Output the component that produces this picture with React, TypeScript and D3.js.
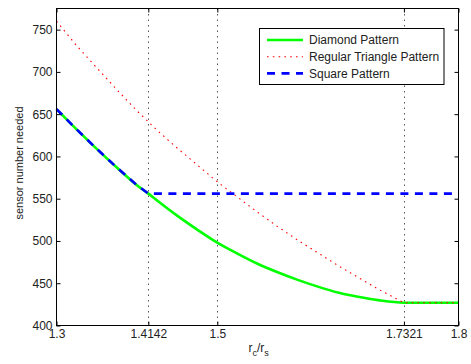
import { useEffect, useRef } from 'react';
import * as d3 from 'd3';

// r_c / r_s sample points
const ratios = [1.3, 1.325, 1.35, 1.375, 1.4, 1.4142, 1.425, 1.45, 1.475, 1.5, 1.525, 1.55, 1.575, 1.6, 1.625, 1.65, 1.675, 1.7, 1.7321, 1.75, 1.775, 1.8];
const diamond = [656, 632, 609, 587, 566, 556, 548, 530, 513.5, 498, 485, 473, 463, 454, 446, 439, 434, 430, 427, 427, 427, 427];
const triangle = [760, 731, 705, 679, 654, 641, 631, 610, 590, 570, 552, 534, 517, 501, 486, 471, 457, 443, 427, 427, 427, 427];
const square = [656, 632, 609, 587, 566, 556, 556, 556, 556, 556, 556, 556, 556, 556, 556, 556, 556, 556, 556, 556, 556, 556];

const xTicks = [1.3, 1.4142, 1.5, 1.7321, 1.8];
const xTickLabels = ['1.3', '1.4142', '1.5', '1.7321', '1.8'];
const yTicks = [400, 450, 500, 550, 600, 650, 700, 750];
const legendNames = ['Diamond Pattern', 'Regular Triangle Pattern', 'Square Pattern'];

const FONT = '"Liberation Sans", Arial, Helvetica, sans-serif';

const App: React.FC = () => {
    const ref = useRef<SVGSVGElement>(null);

    useEffect(() => {
        const left = 56.5, right = 458.5, top = 8.5, bottom = 325.5;

        const svg = d3.select(ref.current!);
        svg.selectAll('*').remove();

        const x = d3.scaleLinear().domain([1.3, 1.8]).range([left, right]);
        const y = d3.scaleLinear().domain([400, 775]).range([bottom, top]);

        // vertical grid lines (MATLAB style dotted)
        svg.append('g')
            .selectAll('line')
            .data(xTicks.slice(1, -1))
            .enter()
            .append('line')
            .attr('x1', d => Math.round(x(d)) + 0.5)
            .attr('x2', d => Math.round(x(d)) + 0.5)
            .attr('y1', top)
            .attr('y2', bottom)
            .attr('stroke', '#555')
            .attr('stroke-width', 1)
            .attr('stroke-dasharray', '1.5,4');

        const pts = (vals: number[]) => ratios.map((r, i) => [r, vals[i]] as [number, number]);

        const smooth = d3.line<[number, number]>().x(d => x(d[0])).y(d => y(d[1])).curve(d3.curveMonotoneX);
        const straight = d3.line<[number, number]>().x(d => x(d[0])).y(d => y(d[1]));

        const series = [
            { name: legendNames[0], path: smooth(pts(diamond)), color: '#00ff00', w: 2.6, dash: null as string | null },
            { name: legendNames[1], path: straight(pts(triangle)), color: '#ff0000', w: 1.1, dash: '1.6,4.2' },
            { name: legendNames[2], path: straight(pts(square)), color: '#0000ff', w: 2.6, dash: '8,6.5' },
        ];

        series.forEach(s => {
            svg.append('path')
                .attr('d', s.path)
                .attr('fill', 'none')
                .attr('stroke', s.color)
                .attr('stroke-width', s.w)
                .attr('stroke-dasharray', s.dash);
        });

        // axes box
        svg.append('rect')
            .attr('x', left).attr('y', top)
            .attr('width', right - left).attr('height', bottom - top)
            .attr('fill', 'none').attr('stroke', '#000').attr('stroke-width', 1);

        // ticks on all four sides, pointing inward
        const axB = d3.axisBottom(x).tickValues(xTicks).tickSize(-4).tickPadding(4)
            .tickFormat((_, i) => xTickLabels[i]);
        const axT = d3.axisTop(x).tickValues(xTicks).tickSize(-4).tickFormat(() => '');
        const axL = d3.axisLeft(y).tickValues(yTicks).tickSize(-4).tickPadding(4);
        const axR = d3.axisRight(y).tickValues(yTicks).tickSize(-4).tickFormat(() => '');

        const styleAxis = (g: d3.Selection<SVGGElement, unknown, null, undefined>) => {
            g.select('.domain').remove();
            g.attr('font-family', FONT).attr('font-size', 12);
            g.selectAll('text').attr('fill', '#222');
        };

        svg.append('g').attr('transform', `translate(0,${bottom})`).call(axB).call(styleAxis);
        svg.append('g').attr('transform', `translate(0,${top})`).call(axT).call(styleAxis);
        svg.append('g').attr('transform', `translate(${left},0)`).call(axL).call(styleAxis);
        svg.append('g').attr('transform', `translate(${right},0)`).call(axR).call(styleAxis);

        // axis labels
        const xl = svg.append('text')
            .attr('x', (left + right) / 2 - 9)
            .attr('y', 352)
            .attr('font-family', FONT)
            .attr('font-size', 12)
            .attr('fill', '#222');
        xl.append('tspan').text('r');
        xl.append('tspan').attr('font-size', 9).attr('dy', 4).text('c');
        xl.append('tspan').attr('dy', -4).text('/r');
        xl.append('tspan').attr('font-size', 9).attr('dy', 4).text('s');

        svg.append('text')
            .attr('transform', `translate(23,${(top + bottom) / 2 - 4}) rotate(-90)`)
            .attr('text-anchor', 'middle')
            .attr('font-family', FONT)
            .attr('font-size', 11)
            .attr('fill', '#222')
            .text('sensor number needed');

        // legend
        const lg = svg.append('g');
        lg.append('rect')
            .attr('x', 259.5).attr('y', 28.5)
            .attr('width', 184.5).attr('height', 56)
            .attr('fill', '#fff').attr('stroke', '#000').attr('stroke-width', 1);

        series.forEach((s, i) => {
            const ly = 40 + i * 16.7;
            lg.append('line')
                .attr('x1', 267).attr('x2', 303)
                .attr('y1', ly).attr('y2', ly)
                .attr('stroke', s.color)
                .attr('stroke-width', s.w)
                .attr('stroke-dasharray', s.dash);
            lg.append('text')
                .attr('x', 309).attr('y', ly)
                .attr('dy', '0.35em')
                .attr('font-family', FONT)
                .attr('font-size', 12)
                .attr('fill', '#222')
                .text(s.name);
        });
    }, []);

    return <svg ref={ref} width={471} height={364} style={{ position: 'absolute', left: 0, top: 0, background: '#fff' }} />;
};

export default App;
